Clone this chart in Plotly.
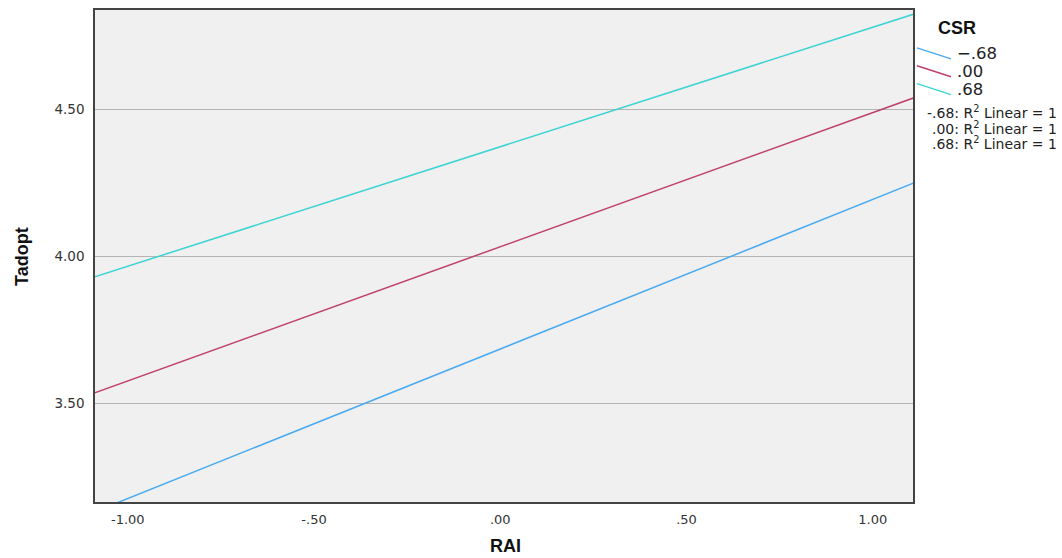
import plotly.graph_objects as go

# RAI values spanning the x axis, and fitted Tadopt lines for each CSR level
rai = [-1.09, 1.11]
csr_levels = ["-.68", ".00", ".68"]
tadopt_low = [3.13, 4.25]
tadopt_mid = [3.535, 4.54]
tadopt_high = [3.93, 4.825]

x_ticks = [-1.0, -0.5, 0.0, 0.5, 1.0]
x_tick_labels = ["-1.00", "-.50", ".00", ".50", "1.00"]
y_ticks = [3.5, 4.0, 4.5]
y_tick_labels = ["3.50", "4.00", "4.50"]

colors = ["#4aaaf0", "#bf4068", "#3dd3d3"]
series = [tadopt_low, tadopt_mid, tadopt_high]

fig = go.Figure()
for name, ys, col in zip(csr_levels, series, colors):
    fig.add_trace(go.Scatter(x=rai, y=ys, mode="lines", name=name,
                             line=dict(color=col, width=1.5), showlegend=False))

W, H = 1062, 558
ml, mr, mt, mb = 95, 149, 8, 56
PW, PH = W - ml - mr, H - mt - mb

fig.update_layout(
    width=W, height=H,
    margin=dict(l=ml, r=mr, t=mt, b=mb),
    paper_bgcolor="white",
    plot_bgcolor="#f0f0f0",
    font=dict(family="DejaVu Sans", color="#333333"),
    xaxis=dict(range=[-1.088, 1.108], tickvals=x_ticks, ticktext=x_tick_labels,
               showgrid=False, zeroline=False, showline=True, linecolor="#444444",
               linewidth=1.5, mirror=True, ticks="", tickfont=dict(size=13, color="#333"),
               ticklabelstandoff=5),
    yaxis=dict(range=[3.164, 4.839], tickvals=y_ticks, ticktext=y_tick_labels,
               showgrid=True, gridcolor="#b4b4b4", gridwidth=1, zeroline=False,
               showline=True, linecolor="#444444", linewidth=1.5, mirror=True,
               ticks="", tickfont=dict(size=13.5, color="#333"), ticklabelstandoff=6),
)


def px(xp):
    # pixel x in the page -> paper fraction of the plot area
    return (xp - ml) / PW


def py(yp):
    # pixel y in the page -> paper fraction of the plot area
    return 1 - (yp - mt) / PH


ann = []
ann.append(dict(x=px(505), y=py(546), xref="paper", yref="paper", text="<b>RAI</b>",
                showarrow=False, font=dict(size=18, family="Liberation Sans", color="#111"),
                xanchor="center", yanchor="middle"))
ann.append(dict(x=px(22), y=py(256), xref="paper", yref="paper", text="<b>Tadopt</b>",
                showarrow=False, textangle=-90, font=dict(size=18, family="Liberation Sans", color="#111"),
                xanchor="center", yanchor="middle"))
ann.append(dict(x=px(957), y=py(26), xref="paper", yref="paper", text="<b>CSR</b>",
                showarrow=False, font=dict(size=18, family="Liberation Sans", color="#111"),
                xanchor="center", yanchor="middle"))

shapes = []
legend_y = [46, 64, 82]
for i, (name, col) in enumerate(zip(csr_levels, colors)):
    y0 = legend_y[i]
    shapes.append(dict(type="line", xref="paper", yref="paper",
                       x0=px(917), y0=py(y0), x1=px(951), y1=py(y0 + 11),
                       line=dict(color=col, width=1.4)))
    label = "\u2212.68" if name == "-.68" else name
    ann.append(dict(x=px(955), y=py(y0 + 6), xref="paper", yref="paper", text=label,
                    showarrow=False, font=dict(size=16.5, family="DejaVu Sans", color="#222"),
                    xanchor="left", yanchor="middle"))

r2_y = [110, 126, 142]
for i, name in enumerate(csr_levels):
    ann.append(dict(x=px(1059), y=py(r2_y[i]), xref="paper", yref="paper",
                    text=f"{name}: R<sup>2</sup> Linear = 1",
                    showarrow=False, font=dict(size=14, family="DejaVu Sans", color="#222"),
                    xanchor="right", yanchor="middle"))

fig.update_layout(annotations=ann, shapes=shapes)
fig.write_html("out.html")
